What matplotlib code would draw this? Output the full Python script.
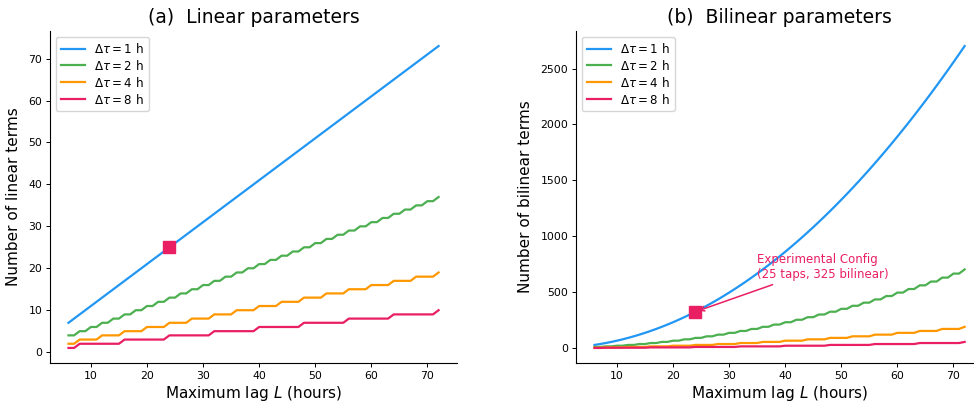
import matplotlib
matplotlib.use("Agg")
import matplotlib.pyplot as plt

# ---------------------------------- Data ---------------------------------
lag_hours = list(range(6, 73))     # Maximum lag L (hours), one point per hour

# Number of linear terms (taps) per tap spacing
lin_dt1 = [7, 8, 9, 10, 11, 12, 13, 14, 15, 16, 17, 18, 19, 20, 21, 22, 23, 24, 25, 26,
           27, 28, 29, 30, 31, 32, 33, 34, 35, 36, 37, 38, 39, 40, 41, 42, 43, 44, 45, 46,
           47, 48, 49, 50, 51, 52, 53, 54, 55, 56, 57, 58, 59, 60, 61, 62, 63, 64, 65, 66,
           67, 68, 69, 70, 71, 72, 73]
lin_dt2 = [4, 4, 5, 5, 6, 6, 7, 7, 8, 8, 9, 9, 10, 10, 11, 11, 12, 12, 13, 13,
           14, 14, 15, 15, 16, 16, 17, 17, 18, 18, 19, 19, 20, 20, 21, 21, 22, 22, 23, 23,
           24, 24, 25, 25, 26, 26, 27, 27, 28, 28, 29, 29, 30, 30, 31, 31, 32, 32, 33, 33,
           34, 34, 35, 35, 36, 36, 37]
lin_dt4 = [2, 2, 3, 3, 3, 3, 4, 4, 4, 4, 5, 5, 5, 5, 6, 6, 6, 6, 7, 7,
           7, 7, 8, 8, 8, 8, 9, 9, 9, 9, 10, 10, 10, 10, 11, 11, 11, 11, 12, 12,
           12, 12, 13, 13, 13, 13, 14, 14, 14, 14, 15, 15, 15, 15, 16, 16, 16, 16, 17, 17,
           17, 17, 18, 18, 18, 18, 19]
lin_dt8 = [1, 1, 2, 2, 2, 2, 2, 2, 2, 2, 3, 3, 3, 3, 3, 3, 3, 3, 4, 4,
           4, 4, 4, 4, 4, 4, 5, 5, 5, 5, 5, 5, 5, 5, 6, 6, 6, 6, 6, 6,
           6, 6, 7, 7, 7, 7, 7, 7, 7, 7, 8, 8, 8, 8, 8, 8, 8, 8, 9, 9,
           9, 9, 9, 9, 9, 9, 10]

# Number of bilinear terms per tap spacing
bil_dt1 = [28, 36, 45, 55, 66, 78, 91, 105, 120, 136, 153, 171, 190, 210, 231, 253, 276, 300,
           325, 351, 378, 406, 435, 465, 496, 528, 561, 595, 630, 666, 703, 741, 780, 820,
           861, 903, 946, 990, 1035, 1081, 1128, 1176, 1225, 1275, 1326, 1378, 1431, 1485,
           1540, 1596, 1653, 1711, 1770, 1830, 1891, 1953, 2016, 2080, 2145, 2211, 2278,
           2346, 2415, 2485, 2556, 2628, 2701]
bil_dt2 = [10, 10, 15, 15, 21, 21, 28, 28, 36, 36, 45, 45, 55, 55, 66, 66, 78, 78, 91, 91,
           105, 105, 120, 120, 136, 136, 153, 153, 171, 171, 190, 190, 210, 210, 231, 231,
           253, 253, 276, 276, 300, 300, 325, 325, 351, 351, 378, 378, 406, 406, 435, 435,
           465, 465, 496, 496, 528, 528, 561, 561, 595, 595, 630, 630, 666, 666, 703]
bil_dt4 = [3, 3, 6, 6, 6, 6, 10, 10, 10, 10, 15, 15, 15, 15, 21, 21, 21, 21, 28, 28,
           28, 28, 36, 36, 36, 36, 45, 45, 45, 45, 55, 55, 55, 55, 66, 66, 66, 66, 78, 78,
           78, 78, 91, 91, 91, 91, 105, 105, 105, 105, 120, 120, 120, 120, 136, 136, 136, 136,
           153, 153, 153, 153, 171, 171, 171, 171, 190]
bil_dt8 = [1, 1, 3, 3, 3, 3, 3, 3, 3, 3, 6, 6, 6, 6, 6, 6, 6, 6, 10, 10,
           10, 10, 10, 10, 10, 10, 15, 15, 15, 15, 15, 15, 15, 15, 21, 21, 21, 21, 21, 21,
           21, 21, 28, 28, 28, 28, 28, 28, 28, 28, 36, 36, 36, 36, 36, 36, 36, 36, 45, 45,
           45, 45, 45, 45, 45, 45, 55]

spacings = [1, 2, 4, 8]
colors = ['#2196F3', '#4CAF50', '#FF9800', '#E91E63']

# Experimental configuration
exp_lag = 24
exp_taps = 25
exp_bilinear = 325

# ---------------------------------- Plot ---------------------------------
fig = plt.figure(figsize=(9.74, 4.07), dpi=100)
ax1 = fig.add_axes([0.0513, 0.108, 0.418, 0.816])
ax2 = fig.add_axes([0.5914, 0.108, 0.418, 0.816])

lin_series = [lin_dt1, lin_dt2, lin_dt4, lin_dt8]
bil_series = [bil_dt1, bil_dt2, bil_dt4, bil_dt8]

for dt, c, y in zip(spacings, colors, lin_series):
    ax1.plot(lag_hours, y, color=c, lw=1.6, label=r'$\Delta\tau = %d$ h' % dt)
ax1.plot(exp_lag, exp_taps, 's', color='#E91E63', ms=9, zorder=5)

for dt, c, y in zip(spacings, colors, bil_series):
    ax2.plot(lag_hours, y, color=c, lw=1.6, label=r'$\Delta\tau = %d$ h' % dt)
ax2.plot(exp_lag, exp_bilinear, 's', color='#E91E63', ms=9, zorder=5)
ax2.annotate('Experimental Config\n(25 taps, 325 bilinear)',
             xy=(exp_lag, exp_bilinear), xytext=(35, 600), ha='left', va='bottom',
             color='#E91E63', fontsize=8.5,
             arrowprops=dict(arrowstyle='->', color='#E91E63', lw=1.1))

ax1.set_title('(a)  Linear parameters', fontsize=13.5)
ax2.set_title('(b)  Bilinear parameters', fontsize=13.5)
ax1.set_ylabel('Number of linear terms', fontsize=11, labelpad=5)
ax2.set_ylabel('Number of bilinear terms', fontsize=11, labelpad=5)

for ax in (ax1, ax2):
    ax.set_xlabel(r'Maximum lag $L$ (hours)', fontsize=11, labelpad=2)
    ax.spines['top'].set_visible(False)
    ax.spines['right'].set_visible(False)
    ax.spines['left'].set_linewidth(0.8)
    ax.spines['bottom'].set_linewidth(0.8)
    ax.tick_params(labelsize=7.8, length=2.6, width=0.7, pad=3)
    ax.legend(loc='upper left', fontsize=8.6, labelspacing=0.25)

fig.savefig('out.png', dpi=100)
